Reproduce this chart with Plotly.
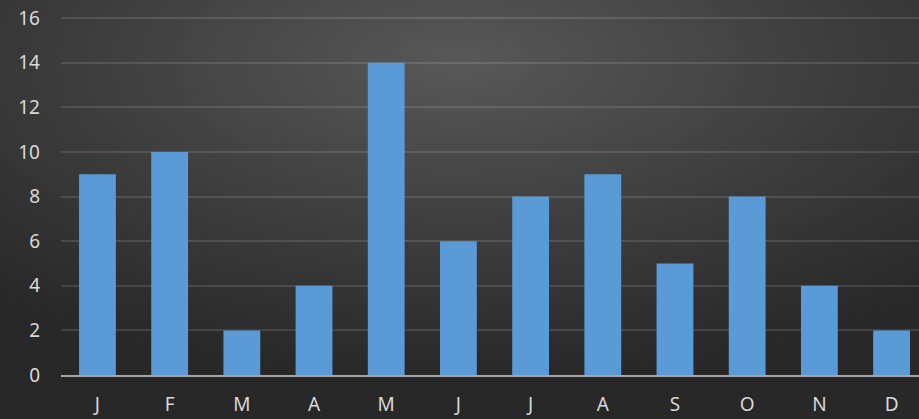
import plotly.graph_objects as go
import base64

months = ["J", "F", "M", "A", "M", "J", "J", "A", "S", "O", "N", "D"]
values = [9, 10, 2, 4, 14, 6, 8, 9, 5, 8, 4, 2]
y_ticks = [0, 2, 4, 6, 8, 10, 12, 14, 16]

svg = """<svg xmlns='http://www.w3.org/2000/svg' width='919' height='419'>
<defs><radialGradient id='g' cx='0.5' cy='0.15' r='0.75' fx='0.5' fy='0.15'>
<stop offset='0' stop-color='#585858'/><stop offset='0.55' stop-color='#3d3d3d'/><stop offset='1' stop-color='#282828'/>
</radialGradient></defs><rect width='919' height='419' fill='url(#g)'/></svg>"""
bg = "data:image/svg+xml;base64," + base64.b64encode(svg.encode()).decode()

x = list(range(len(months)))
fig = go.Figure()
fig.add_trace(go.Bar(
    x=x, y=values, width=0.51,
    marker=dict(color="#5a9ad7", line=dict(width=0)),
    hoverinfo="skip",
))
fig.update_layout(
    width=919, height=419,
    margin=dict(l=61, r=0, t=16, b=44),
    paper_bgcolor="#2e2e2e",
    plot_bgcolor="rgba(0,0,0,0)",
    images=[dict(source=bg, xref="paper", yref="paper", x=-61/858, y=1+16/359,
                 sizex=919/858, sizey=419/359, xanchor="left", yanchor="top",
                 sizing="stretch", layer="below")],
    font=dict(family="Noto Sans", size=19, color="#d9d9d9"),
    showlegend=False,
)
fig.update_xaxes(
    tickmode="array", tickvals=x, ticktext=months,
    range=[-0.505, 11.38], showgrid=False, zeroline=False,
    showline=True, linecolor="#a6a6a6", linewidth=2,
    ticks="", ticklabelstandoff=11,
)
fig.update_yaxes(
    range=[0, 16.1], tickmode="array", tickvals=y_ticks,
    showgrid=True, gridcolor="rgba(255,255,255,0.12)", gridwidth=1.5,
    zeroline=False, showline=False, ticks="", ticklabelstandoff=20,
)
fig.write_html("out.html", config={"displayModeBar": False},
               post_script="document.body.style.margin='0';document.body.style.overflow='hidden';")
